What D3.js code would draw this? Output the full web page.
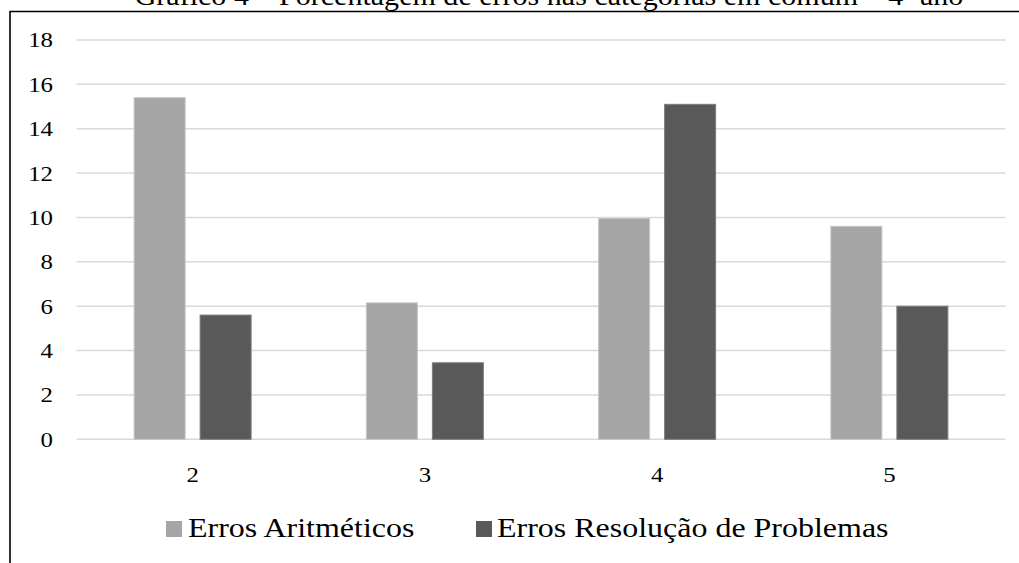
<!DOCTYPE html>
<html>
<head>
<meta charset="utf-8">
<script src="https://cdn.jsdelivr.net/npm/d3@7"></script>
<style>
  html, body { margin: 0; padding: 0; background: #fff; }
  svg { display: block; }
  text { font-family: "Liberation Serif", "Times New Roman", serif; fill: #000; }
</style>
</head>
<body>
<script>
// Percentage of errors per category, 4th grade
const categories = ["2", "3", "4", "5"];
const seriesNames = ["Erros Aritméticos", "Erros Resolução de Problemas"];
const aritmeticos = [15.4, 6.15, 9.95, 9.6];
const resolucao = [5.6, 3.45, 15.1, 6.0];
const yTicks = [0, 2, 4, 6, 8, 10, 12, 14, 16, 18];
const titleText = "Gráfico 4 – Porcentagem de erros nas categorias em comum – 4º ano";
const colors = ["#a5a5a5", "#595959"];
const edgeColors = ["#c4c4c4", "#7c7c7c"];

const W = 1019, H = 563;
const sx = 1.13; // horizontal stretch applied to all text

const svg = d3.select("body").append("svg").attr("width", W).attr("height", H);

// Frame (top and left edges)
svg.append("path")
  .attr("d", `M10,${H} L10,11.5 L${W},11.5`)
  .attr("fill", "none").attr("stroke", "#000").attr("stroke-width", 1.6);

function stretchedText(sel, x, y, txt, size, anchor) {
  return sel.append("text")
    .attr("transform", `translate(${x},${y}) scale(${sx},1)`)
    .attr("text-anchor", anchor)
    .attr("font-size", size)
    .text(txt);
}

// Title sits above the frame, running off the top edge
stretchedText(svg, 549, 4.5, titleText, 26.6, "middle");

const x0 = 76.5, x1 = 1005.5;
const y = d3.scaleLinear().domain([0, 18]).range([439.3, 40]);
const x = d3.scaleBand().domain(categories).range([x0, x1]).paddingInner(0.492).paddingOuter(0.246);
const xs = d3.scaleBand().domain(seriesNames).range([0, x.bandwidth()]).paddingInner(0.2121);

// Gridlines
svg.append("g").selectAll("line").data(yTicks).join("line")
  .attr("x1", x0).attr("x2", x1)
  .attr("y1", d => y(d)).attr("y2", d => y(d))
  .attr("stroke", "#d9d9d9").attr("stroke-width", 1.5);

// Y tick labels
const yl = svg.append("g");
yTicks.forEach(t => stretchedText(yl, 53, y(t), String(t), 22, "end").attr("dominant-baseline", "central"));

// Bars
const series = [aritmeticos, resolucao];
series.forEach((vals, si) => {
  svg.append("g").selectAll("rect").data(vals).join("rect")
    .attr("x", (d, i) => x(categories[i]) + xs(seriesNames[si]) + 0.5)
    .attr("y", d => y(d))
    .attr("width", xs.bandwidth() - 1)
    .attr("height", d => y(0) - y(d))
    .attr("fill", colors[si])
    .attr("stroke", edgeColors[si]).attr("stroke-width", 1);
});

// Category labels
const xl = svg.append("g");
categories.forEach(c => stretchedText(xl, x(c) + x.bandwidth() / 2, 482, c, 22, "middle"));

// Legend
const legend = [
  { sq: 166, tx: 188 },
  { sq: 476, tx: 497 }
];
legend.forEach((p, i) => {
  svg.append("rect").attr("x", p.sq).attr("y", 521).attr("width", 16).attr("height", 16).attr("fill", colors[i]);
  stretchedText(svg, p.tx, 537, seriesNames[i], 28.3, "start");
});
</script>
</body>
</html>
